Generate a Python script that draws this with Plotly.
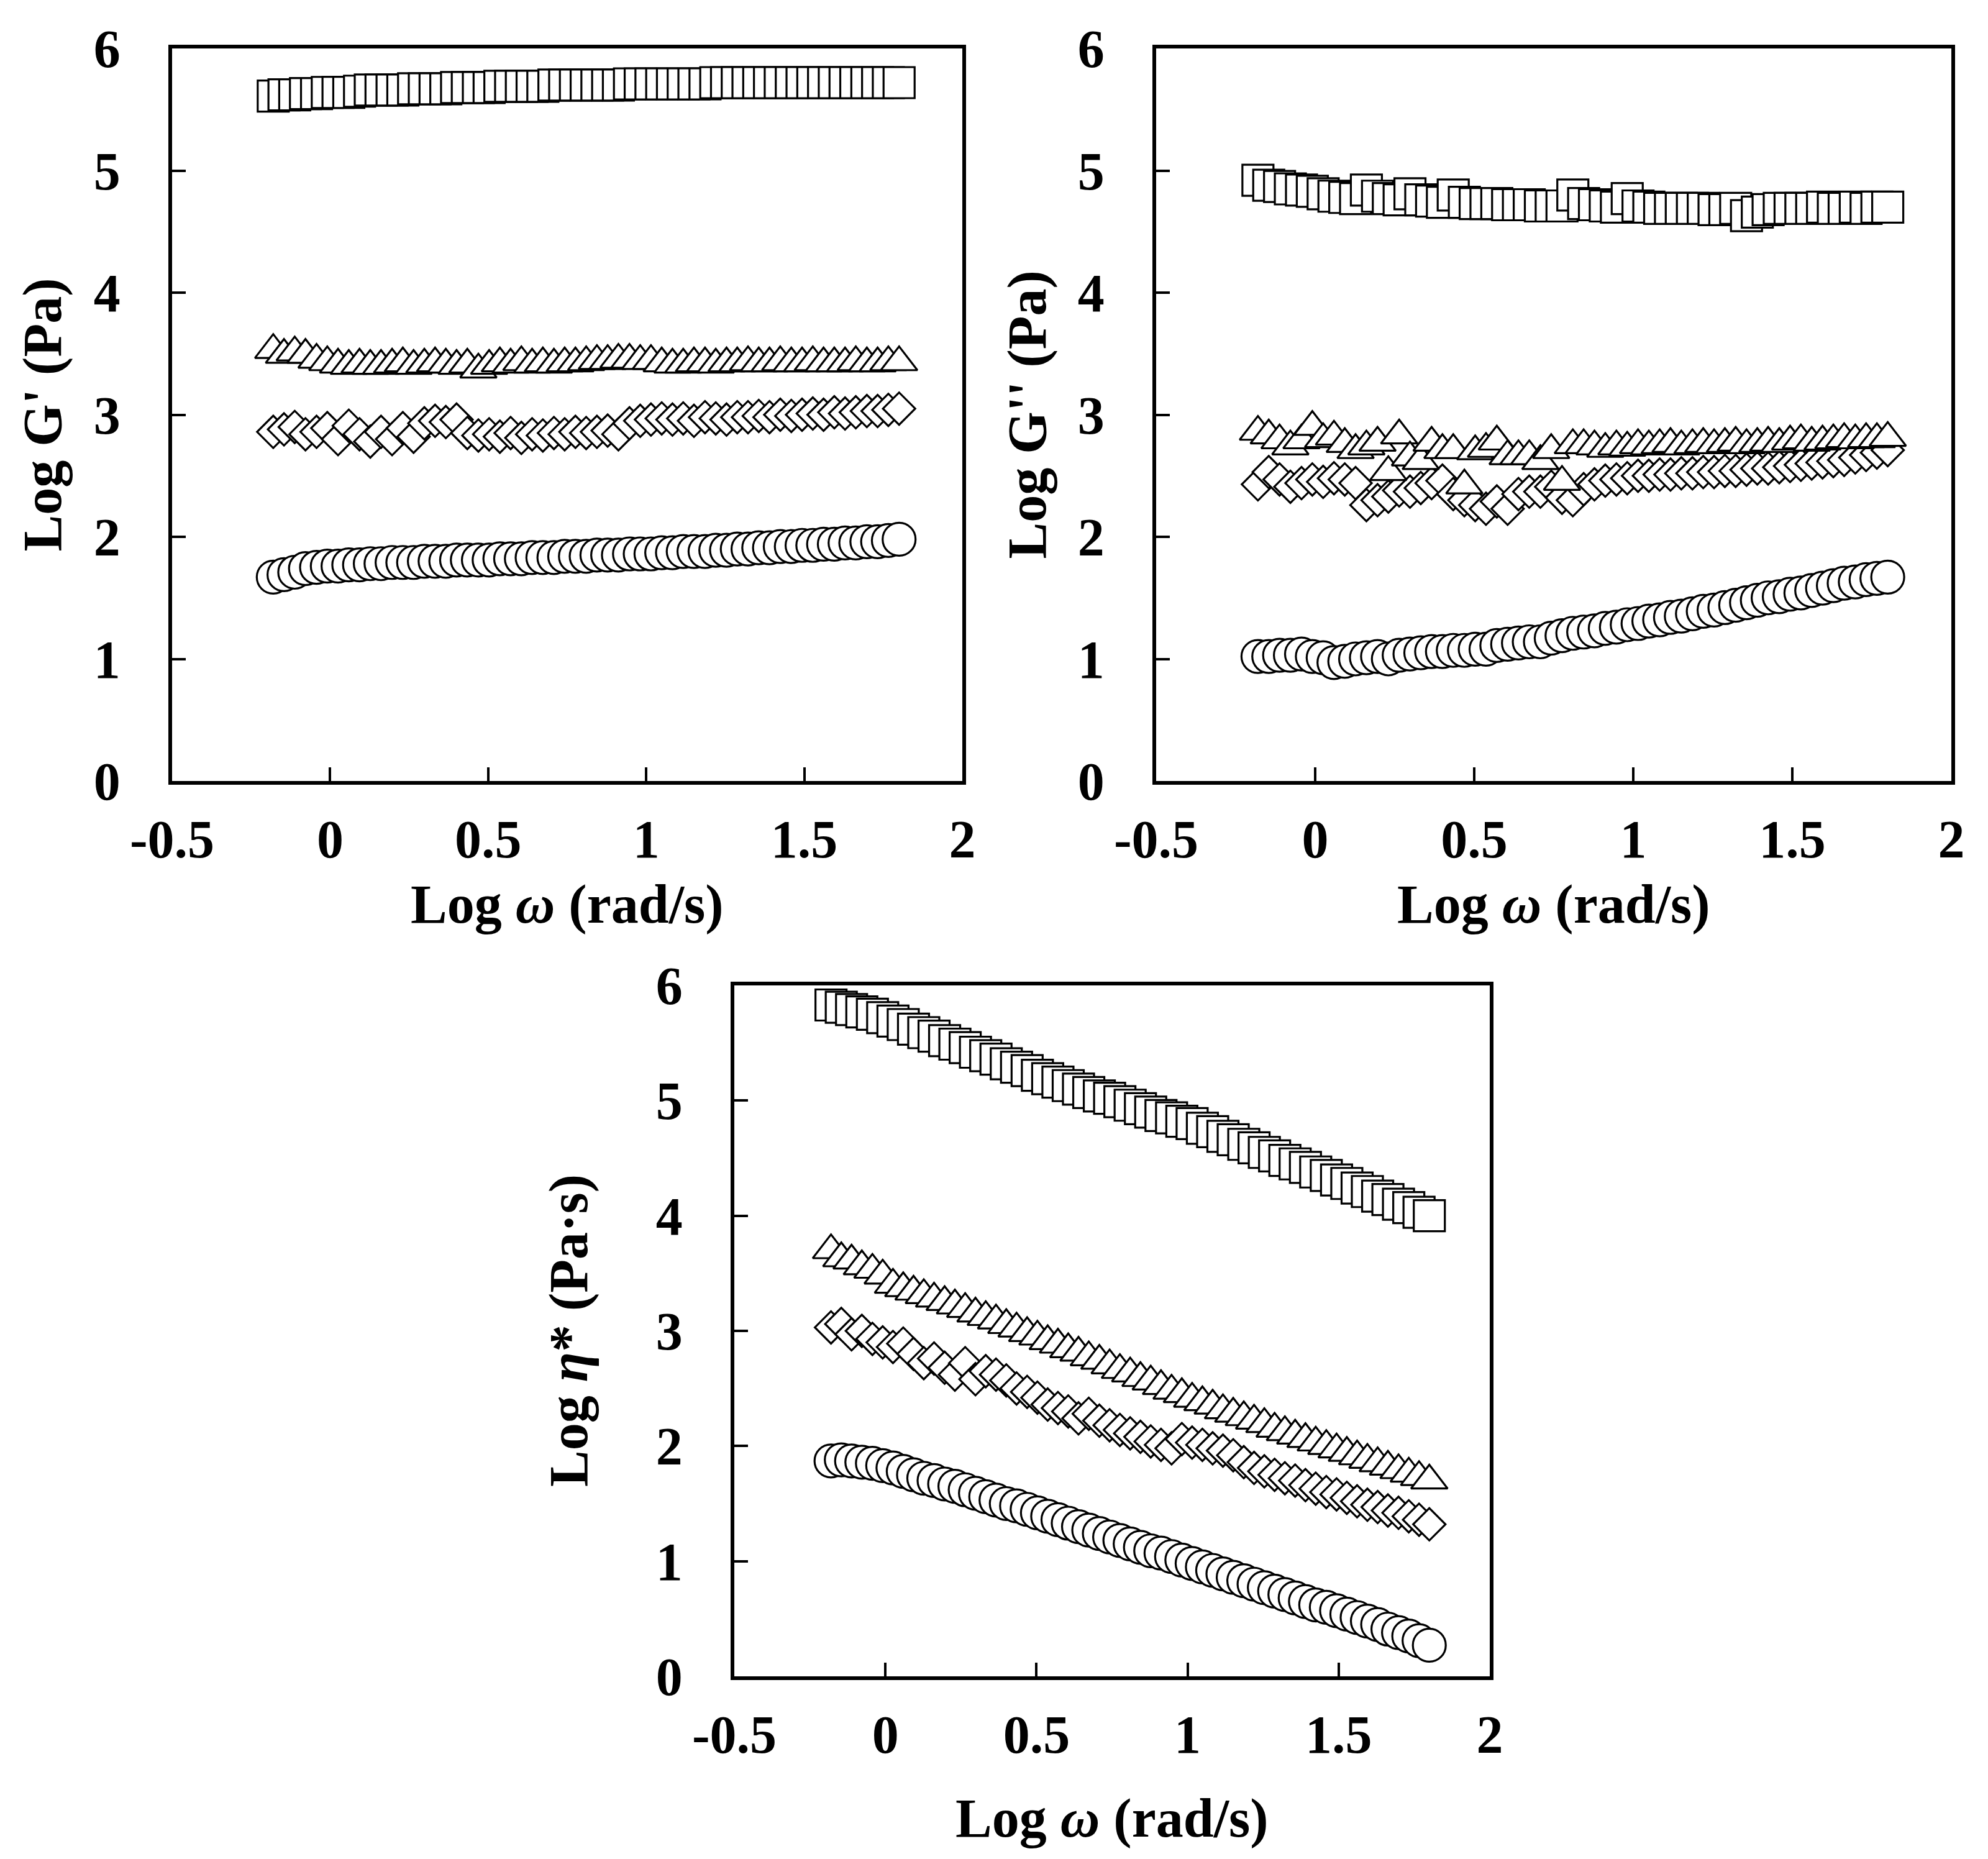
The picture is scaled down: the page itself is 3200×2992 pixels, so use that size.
import plotly.graph_objects as go

# log angular frequency (rad/s), shared by every panel
LOG_W = [-0.180, -0.146, -0.112, -0.078, -0.043, -0.009, 0.025, 0.059, 0.093, 0.127,
         0.161, 0.196, 0.230, 0.264, 0.298, 0.332, 0.366, 0.400, 0.434, 0.469,
         0.503, 0.537, 0.571, 0.605, 0.639, 0.673, 0.708, 0.742, 0.776, 0.810,
         0.844, 0.878, 0.912, 0.947, 0.981, 1.015, 1.049, 1.083, 1.117, 1.151,
         1.186, 1.220, 1.254, 1.288, 1.322, 1.356, 1.390, 1.424, 1.459, 1.493,
         1.527, 1.561, 1.595, 1.629, 1.663, 1.698, 1.732, 1.766, 1.800]

# Log G' (Pa)
GP_SQUARE = [5.61, 5.62, 5.62, 5.63, 5.63, 5.64, 5.64, 5.64, 5.65, 5.66,
             5.66, 5.66, 5.66, 5.67, 5.67, 5.67, 5.67, 5.68, 5.68, 5.68,
             5.68, 5.69, 5.69, 5.69, 5.69, 5.69, 5.70, 5.70, 5.70, 5.70,
             5.70, 5.70, 5.70, 5.71, 5.71, 5.71, 5.71, 5.71, 5.71, 5.71,
             5.71, 5.72, 5.72, 5.72, 5.72, 5.72, 5.72, 5.72, 5.72, 5.72,
             5.72, 5.72, 5.72, 5.72, 5.72, 5.72, 5.72, 5.72, 5.72]
GP_TRIANGLE = [3.53, 3.49, 3.51, 3.49, 3.45, 3.43, 3.41, 3.40, 3.41, 3.40,
               3.40, 3.41, 3.42, 3.40, 3.41, 3.42, 3.41, 3.40, 3.41, 3.37,
               3.40, 3.42, 3.41, 3.43, 3.41, 3.42, 3.41, 3.42, 3.42, 3.43,
               3.44, 3.44, 3.45, 3.45, 3.44, 3.44, 3.42, 3.41, 3.41, 3.42,
               3.42, 3.41, 3.42, 3.42, 3.43, 3.42, 3.42, 3.43, 3.42, 3.42,
               3.43, 3.42, 3.42, 3.42, 3.43, 3.42, 3.42, 3.43, 3.43]
GP_DIAMOND = [2.86, 2.88, 2.90, 2.84, 2.86, 2.89, 2.80, 2.91, 2.84, 2.78,
              2.86, 2.80, 2.89, 2.82, 2.93, 2.95, 2.94, 2.96, 2.85, 2.83,
              2.84, 2.82, 2.85, 2.81, 2.84, 2.83, 2.85, 2.84, 2.86, 2.85,
              2.86, 2.87, 2.84, 2.93, 2.95, 2.96, 2.97, 2.96, 2.97, 2.95,
              2.98, 2.97, 2.96, 2.98, 2.98, 2.99, 2.98, 3.00, 2.99, 3.00,
              3.01, 3.00, 3.02, 3.01, 3.02, 3.03, 3.03, 3.04, 3.05]
GP_CIRCLE = [1.67, 1.69, 1.71, 1.74, 1.75, 1.76, 1.76, 1.77, 1.77, 1.78,
             1.78, 1.79, 1.79, 1.79, 1.80, 1.80, 1.80, 1.81, 1.81, 1.81,
             1.81, 1.82, 1.82, 1.82, 1.83, 1.83, 1.83, 1.84, 1.84, 1.84,
             1.85, 1.85, 1.85, 1.86, 1.86, 1.86, 1.87, 1.87, 1.88, 1.88,
             1.88, 1.89, 1.89, 1.90, 1.90, 1.91, 1.91, 1.92, 1.92, 1.93,
             1.93, 1.94, 1.94, 1.95, 1.95, 1.96, 1.96, 1.97, 1.98]

# Log G'' (Pa)
GPP_SQUARE = [4.92, 4.88, 4.87, 4.85, 4.84, 4.83, 4.81, 4.79, 4.78, 4.77,
              4.84, 4.79, 4.77, 4.76, 4.81, 4.76, 4.75, 4.74, 4.80, 4.74,
              4.73, 4.73, 4.73, 4.72, 4.72, 4.72, 4.71, 4.71, 4.71, 4.80,
              4.73, 4.72, 4.71, 4.70, 4.77, 4.71, 4.70, 4.69, 4.69, 4.69,
              4.69, 4.69, 4.68, 4.68, 4.69, 4.63, 4.66, 4.68, 4.69, 4.69,
              4.69, 4.69, 4.70, 4.69, 4.69, 4.70, 4.69, 4.70, 4.70]
GPP_TRIANGLE = [2.86, 2.83, 2.79, 2.74, 2.79, 2.90, 2.80, 2.82, 2.76, 2.71,
                2.74, 2.77, 2.53, 2.83, 2.65, 2.62, 2.77, 2.71, 2.71, 2.42,
                2.70, 2.72, 2.78, 2.66, 2.66, 2.66, 2.62, 2.71, 2.45, 2.75,
                2.75, 2.74, 2.72, 2.74, 2.73, 2.75, 2.74, 2.75, 2.76, 2.74,
                2.75, 2.76, 2.75, 2.76, 2.77, 2.75, 2.76, 2.77, 2.76, 2.78,
                2.79, 2.77, 2.78, 2.79, 2.80, 2.79, 2.80, 2.80, 2.81]
GPP_DIAMOND = [2.43, 2.53, 2.47, 2.41, 2.44, 2.47, 2.45, 2.48, 2.47, 2.44,
               2.26, 2.30, 2.33, 2.38, 2.37, 2.40, 2.44, 2.46, 2.35, 2.30,
               2.26, 2.23, 2.29, 2.23, 2.35, 2.37, 2.37, 2.41, 2.32, 2.30,
               2.39, 2.43, 2.46, 2.47, 2.48, 2.50, 2.50, 2.51, 2.51, 2.52,
               2.52, 2.53, 2.53, 2.54, 2.54, 2.55, 2.56, 2.56, 2.57, 2.58,
               2.59, 2.60, 2.61, 2.62, 2.63, 2.65, 2.67, 2.69, 2.71]
GPP_CIRCLE = [1.02, 1.02, 1.03, 1.03, 1.04, 1.02, 1.01, 0.97, 0.98, 1.00,
              1.01, 1.02, 1.00, 1.03, 1.04, 1.05, 1.06, 1.06, 1.07, 1.07,
              1.08, 1.08, 1.11, 1.12, 1.13, 1.14, 1.14, 1.17, 1.19, 1.21,
              1.22, 1.23, 1.25, 1.26, 1.28, 1.29, 1.31, 1.32, 1.34, 1.35,
              1.37, 1.39, 1.40, 1.42, 1.44, 1.46, 1.48, 1.50, 1.51, 1.53,
              1.54, 1.56, 1.58, 1.60, 1.62, 1.63, 1.65, 1.66, 1.67]

# Log eta* (Pa.s)
ETA_SQUARE = [5.83, 5.81, 5.79, 5.77, 5.75, 5.72, 5.69, 5.66, 5.62, 5.59,
              5.56, 5.52, 5.49, 5.46, 5.42, 5.39, 5.36, 5.32, 5.29, 5.26,
              5.22, 5.19, 5.16, 5.13, 5.10, 5.07, 5.04, 5.02, 4.99, 4.96,
              4.93, 4.90, 4.87, 4.85, 4.82, 4.80, 4.76, 4.73, 4.69, 4.66,
              4.62, 4.59, 4.55, 4.52, 4.48, 4.45, 4.42, 4.38, 4.35, 4.31,
              4.28, 4.24, 4.21, 4.17, 4.14, 4.10, 4.07, 4.03, 4.00]
ETA_TRIANGLE = [3.70, 3.63, 3.61, 3.56, 3.53, 3.48, 3.40, 3.37, 3.34, 3.31,
                3.28, 3.25, 3.22, 3.19, 3.15, 3.12, 3.09, 3.05, 3.02, 2.98,
                2.95, 2.91, 2.88, 2.84, 2.81, 2.77, 2.74, 2.70, 2.66, 2.63,
                2.59, 2.56, 2.52, 2.48, 2.45, 2.41, 2.38, 2.35, 2.31, 2.28,
                2.25, 2.22, 2.19, 2.15, 2.12, 2.09, 2.06, 2.03, 2.00, 1.97,
                1.94, 1.91, 1.88, 1.85, 1.82, 1.79, 1.76, 1.73, 1.70]
ETA_DIAMOND = [3.03, 3.06, 2.97, 3.00, 2.93, 2.90, 2.86, 2.89, 2.80, 2.72,
               2.76, 2.68, 2.62, 2.72, 2.58, 2.65, 2.62, 2.57, 2.50, 2.47,
               2.42, 2.36, 2.33, 2.30, 2.24, 2.28, 2.22, 2.18, 2.14, 2.11,
               2.08, 2.04, 2.01, 1.98, 2.06, 2.03, 2.01, 1.98, 1.96, 1.92,
               1.86, 1.81, 1.78, 1.75, 1.72, 1.70, 1.66, 1.63, 1.60, 1.58,
               1.55, 1.52, 1.49, 1.47, 1.44, 1.42, 1.39, 1.36, 1.32]
ETA_CIRCLE = [1.87, 1.88, 1.87, 1.86, 1.85, 1.83, 1.81, 1.78, 1.75, 1.72,
              1.70, 1.67, 1.65, 1.62, 1.59, 1.56, 1.53, 1.50, 1.48, 1.45,
              1.42, 1.39, 1.36, 1.33, 1.30, 1.27, 1.24, 1.21, 1.18, 1.15,
              1.12, 1.09, 1.07, 1.04, 1.01, 0.98, 0.95, 0.92, 0.89, 0.86,
              0.83, 0.80, 0.77, 0.74, 0.71, 0.68, 0.65, 0.62, 0.60, 0.57,
              0.54, 0.51, 0.48, 0.45, 0.41, 0.38, 0.35, 0.31, 0.27]

X_TICKS = [-0.5, 0, 0.5, 1, 1.5, 2]
X_TICKTEXT = ["-0.5", "0", "0.5", "1", "1.5", "2"]
Y_TICKS = [0, 1, 2, 3, 4, 5, 6]

W, H = 3200, 2992
FONT = "Liberation Serif, Times New Roman, serif"

# marker size for each symbol
STYLE = {
    "circle": 53,
    "diamond": 40,
    "triangle-up": 51,
    "square": 50,
}

panels = [
    ("x", "y", [GP_CIRCLE, GP_DIAMOND, GP_TRIANGLE, GP_SQUARE]),
    ("x2", "y2", [GPP_CIRCLE, GPP_DIAMOND, GPP_TRIANGLE, GPP_SQUARE]),
    ("x3", "y3", [ETA_CIRCLE, ETA_DIAMOND, ETA_TRIANGLE, ETA_SQUARE]),
]
symbols = ["circle", "diamond", "triangle-up", "square"]

fig = go.Figure()
for xa, ya, series in panels:
    for sym, vals in zip(symbols, series):
        fig.add_trace(go.Scatter(
            x=LOG_W, y=vals, mode="markers", xaxis=xa, yaxis=ya,
            marker=dict(symbol=sym, size=STYLE[sym], color="white",
                        line=dict(color="black", width=3.2)),
            showlegend=False, cliponaxis=False,
        ))

# pixel boxes of the three plot areas: left, right, top, bottom
boxes = [(269, 1541, 70, 1249), (1853, 3133, 70, 1249), (1174, 2390, 1578, 2690)]


def ax_common():
    return dict(showline=True, linecolor="black", linewidth=6, mirror=True,
                ticks="inside", ticklen=22, tickwidth=4, tickcolor="black",
                showgrid=False, zeroline=False, automargin=False,
                tickfont=dict(family=FONT, size=86, color="black", weight="bold"))


layout = dict(template="none", width=W, height=H, margin=dict(l=0, r=0, t=0, b=0),
              paper_bgcolor="white", plot_bgcolor="white", showlegend=False)
for i, (l, r, t, b) in enumerate(boxes):
    sfx = "" if i == 0 else str(i + 1)
    layout["xaxis" + sfx] = dict(ax_common(), domain=[l / W, r / W], range=[-0.5, 2],
                                 tickvals=X_TICKS, ticktext=X_TICKTEXT,
                                 anchor="y" + sfx, ticklabelstandoff=14)
    layout["yaxis" + sfx] = dict(ax_common(), domain=[1 - b / H, 1 - t / H], range=[0, 6],
                                 tickvals=Y_TICKS, anchor="x" + sfx, ticklabelstandoff=60)
fig.update_layout(**layout)

title_font = dict(family=FONT, size=88, color="black", weight="bold")
x_title = "Log <i>ω</i> (rad/s)"
y_titles = ["Log G' (Pa)", "Log G'' (Pa)", "Log <i>η</i>* (Pa·s)"]
x_title_y = [1447, 1447, 2918]
y_title_x = [60, 1645, 907]
for i, (l, r, t, b) in enumerate(boxes):
    fig.add_annotation(text=x_title, xref="paper", yref="paper",
                       x=(l + r) / 2 / W, y=1 - x_title_y[i] / H,
                       xanchor="center", yanchor="middle", showarrow=False, font=title_font)
    fig.add_annotation(text=y_titles[i], xref="paper", yref="paper",
                       x=y_title_x[i] / W, y=1 - (t + b) / 2 / H, textangle=-90,
                       xanchor="center", yanchor="middle", showarrow=False, font=title_font)

fig.write_html("out.html")
